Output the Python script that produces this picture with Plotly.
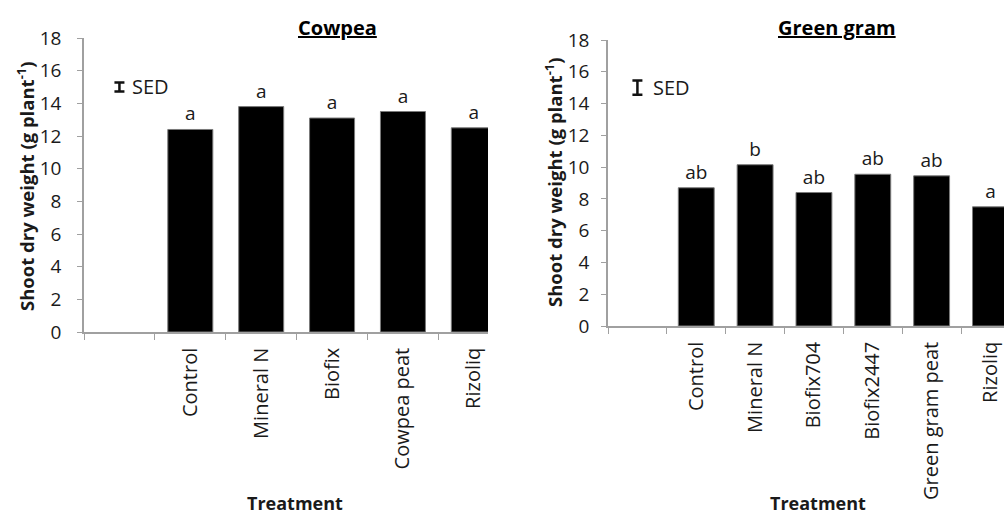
import plotly.graph_objects as go

# Shoot dry weight per treatment (g plant-1)
cowpea_treatments = ["Control", "Mineral N", "Biofix", "Cowpea peat", "Rizoliq"]
cowpea_weight = [12.4, 13.8, 13.1, 13.5, 12.5]
cowpea_letters = ["a", "a", "a", "a", "a"]
cowpea_sed = 0.55

gram_treatments = ["Control", "Mineral N", "Biofix704", "Biofix2447", "Green gram peat", "Rizoliq"]
gram_weight = [8.7, 10.15, 8.4, 9.55, 9.45, 7.5]
gram_letters = ["ab", "b", "ab", "ab", "ab", "a"]
gram_sed = 0.9

sed_position = 15
y_ticks = [0, 2, 4, 6, 8, 10, 12, 14, 16, 18]

# an empty leading slot on each axis holds the SED bar
BLANK = " "

FONT = "Open Sans"
AXIS_GREY = "#a0a0a0"
TEXT = "#1a1a1a"
W, H = 1004, 514

fig = go.Figure()

panels = [
    dict(x=cowpea_treatments, y=cowpea_weight, letters=cowpea_letters, sed=cowpea_sed,
         xa="x", ya="y", bw=0.635),
    dict(x=gram_treatments, y=gram_weight, letters=gram_letters, sed=gram_sed,
         xa="x2", ya="y2", bw=0.61),
]

for p in panels:
    fig.add_trace(go.Bar(
        x=p["x"], y=p["y"], text=p["letters"], textposition="outside",
        textfont=dict(family=FONT, size=19, color=TEXT),
        marker=dict(color="#000000", line=dict(color="#7a7a7a", width=1)),
        width=p["bw"], xaxis=p["xa"], yaxis=p["ya"], cliponaxis=False,
        showlegend=False, hoverinfo="skip",
    ))
    fig.add_trace(go.Scatter(
        x=[BLANK], y=[sed_position], mode="markers",
        marker=dict(size=1, color="rgba(0,0,0,0)"),
        error_y=dict(type="data", array=[p["sed"] / 2], color="#111111",
                     thickness=2.5, width=5),
        xaxis=p["xa"], yaxis=p["ya"], showlegend=False, hoverinfo="skip",
    ))

x_common = dict(
    type="category", tickson="boundaries", ticks="outside", ticklen=6,
    tickcolor=AXIS_GREY, showline=True, linecolor=AXIS_GREY, linewidth=1.5,
    showgrid=False, zeroline=False, tickangle=-90, ticklabelstandoff=6,
    tickfont=dict(family=FONT, size=20, color=TEXT), fixedrange=True,
    automargin=False, categoryorder="array",
)
y_common = dict(
    range=[0, 18], tickvals=y_ticks, ticks="outside", ticklen=5,
    tickcolor=AXIS_GREY, showline=True, linecolor=AXIS_GREY, linewidth=1.5,
    showgrid=False, zeroline=False, automargin=False,
    tickfont=dict(family=FONT, size=19, color=TEXT), fixedrange=True,
)

fig.update_layout(
    width=W, height=H, margin=dict(l=0, r=0, t=0, b=0, pad=0),
    paper_bgcolor="white", plot_bgcolor="white",
    xaxis=dict(x_common, domain=[84 / W, 488 / W], range=[-0.5, 5.2],
               categoryarray=[BLANK] + cowpea_treatments, anchor="y"),
    yaxis=dict(y_common, domain=[1 - 332 / H, 1 - 38 / H], anchor="x",
               ticklabelstandoff=12),
    xaxis2=dict(x_common, domain=[608 / W, 1.0], range=[-0.5, 6.23],
                categoryarray=[BLANK] + gram_treatments, anchor="y2"),
    yaxis2=dict(y_common, domain=[1 - 326 / H, 1 - 40 / H], anchor="x2",
                ticklabelstandoff=8),
)

ann = []
# panel titles
for txt, cx in [("Cowpea", 337.5), ("Green gram", 836.7)]:
    ann.append(dict(text="<b>" + txt + "</b>", x=cx / W, y=1 - 27 / H,
                    xref="paper", yref="paper", showarrow=False,
                    xanchor="center", yanchor="middle",
                    font=dict(family=FONT, size=20, color="#000000",
                              lineposition="under")))
# y-axis titles
for cx, cy in [(25, 187), (553, 183)]:
    ann.append(dict(text="<b>Shoot dry weight (g plant<sup>-1</sup>)</b>",
                    x=cx / W, y=1 - cy / H, xref="paper", yref="paper",
                    showarrow=False, textangle=-90, xanchor="center",
                    yanchor="middle",
                    font=dict(family=FONT, size=18.5, color=TEXT)))
# x-axis titles
for cx in [295, 818]:
    ann.append(dict(text="<b>Treatment</b>", x=cx / W, y=1 - 503 / H,
                    xref="paper", yref="paper", showarrow=False,
                    xanchor="center", yanchor="middle",
                    font=dict(family=FONT, size=18, color=TEXT)))
# SED labels
for xa, ya, shift in [("x", "y", 11), ("x2", "y2", 14)]:
    ann.append(dict(text="SED", x=BLANK, y=sed_position, xref=xa, yref=ya,
                    showarrow=False, xanchor="left", yanchor="middle",
                    xshift=shift, font=dict(family=FONT, size=20, color=TEXT)))

fig.update_layout(annotations=ann)

fig.write_html("out.html")
